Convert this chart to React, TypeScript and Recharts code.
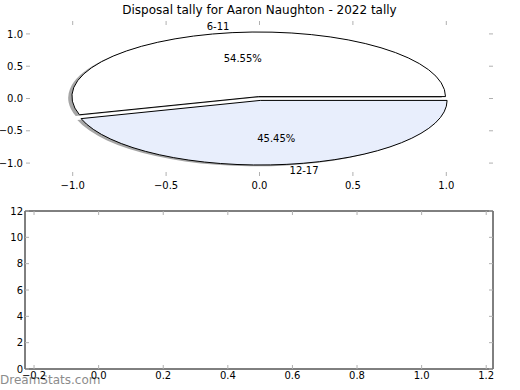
import { ScatterChart, Scatter, XAxis, YAxis, PieChart, Pie } from "recharts";

// pie: games per disposal band
const sliceLabels = ["6-11", "12-17"];
const sliceGames = [6, 5];
const sliceColors = ["#ffffff", "#e8eefc"];
const sliceExplode = [0.03, 0.03];

// axis ticks
const pieXTicks = [-1, -0.5, 0, 0.5, 1];
const pieYTicks = [1, 0.5, 0, -0.5, -1];
const emptyXTicks = [-0.2, 0, 0.2, 0.4, 0.6, 0.8, 1.0, 1.2];
const emptyYTicks = [0, 2, 4, 6, 8, 10, 12];
const emptyPoints: { x: number; y: number }[] = [];

const pieData = sliceLabels.map((name, i) => ({
  name,
  value: sliceGames[i],
  fill: sliceColors[i],
  explode: sliceExplode[i],
}));

const W = 520;
const FONT = "DejaVu Sans";
const TICK = "#b0b0b0";
const RAD = Math.PI / 180;

// top axes geometry
const TOP_H = 200;
const TOP = { left: 26, right: 27, top: 21, bottom: 24 };
const TOP_X: [number, number] = [-1.25, 1.25];
const TOP_Y: [number, number] = [-1.2, 1.2];
const plotW = W - TOP.left - TOP.right;
const plotH = TOP_H - TOP.top - TOP.bottom;
const RX = plotW / (TOP_X[1] - TOP_X[0]);
const RY = plotH / (TOP_Y[1] - TOP_Y[0]);
const ASPECT = RX / RY;
const PIE_CX = TOP.left + plotW / 2;
const PIE_CY = TOP.top + plotH / 2;

// bottom axes geometry
const BOT_TOP = 200;
const BOT_H = 190;
const BOT = { left: 25, right: 27, top: 11, bottom: 21 };
const BOT_X: [number, number] = [-0.228, 1.221];
const BOT_Y: [number, number] = [0, 12];

const fmt1 = (v: number) => v.toFixed(1).replace("-", "\u2212");
const fmt0 = (v: number) => String(v);

function makeTick(side: string, fmt: ((v: number) => string) | null, gap: number) {
  return (props: any) => {
    const { x, y, payload } = props;
    const v = payload.value;
    const L = 4;
    let line = null;
    let label = null;
    if (side === "bottom") {
      line = <line x1={x} x2={x} y1={y} y2={y - L} stroke={TICK} />;
      if (fmt)
        label = (
          <text x={x} y={y + gap} dy={3.6} textAnchor="middle" fontSize={10} fill="#000" fontFamily={FONT}>
            {fmt(v)}
          </text>
        );
    } else if (side === "top") {
      line = <line x1={x} x2={x} y1={y} y2={y + L} stroke={TICK} />;
    } else if (side === "left") {
      line = <line x1={x} x2={x + L} y1={y} y2={y} stroke={TICK} />;
      if (fmt)
        label = (
          <text x={x - gap} y={y} dy={3.6} textAnchor="end" fontSize={10} fill="#000" fontFamily={FONT}>
            {fmt(v)}
          </text>
        );
    } else {
      line = <line x1={x} x2={x - L} y1={y} y2={y} stroke={TICK} />;
    }
    return (
      <g>
        {line}
        {label}
      </g>
    );
  };
}

function wedgePath(cx: number, cy: number, rx: number, ry: number, a0: number, a1: number) {
  const x0 = cx + rx * Math.cos(a0 * RAD);
  const y0 = cy - ry * Math.sin(a0 * RAD);
  const x1 = cx + rx * Math.cos(a1 * RAD);
  const y1 = cy - ry * Math.sin(a1 * RAD);
  const large = Math.abs(a1 - a0) > 180 ? 1 : 0;
  return `M${cx},${cy}L${x0},${y0}A${rx},${ry} 0 ${large} 0 ${x1},${y1}Z`;
}

function explodedCenter(p: any) {
  const ry = p.outerRadius;
  const rx = ry * ASPECT;
  const e = p.payload?.explode ?? p.explode ?? 0;
  const m = p.midAngle * RAD;
  return { x: p.cx + e * rx * Math.cos(m), y: p.cy - e * ry * Math.sin(m), rx, ry };
}

const Wedge = (p: any) => {
  const c = explodedCenter(p);
  return (
    <path
      d={wedgePath(c.x, c.y, c.rx, c.ry, p.startAngle, p.endAngle)}
      fill={p.payload?.fill ?? p.fill}
      stroke="#000"
      strokeWidth={1}
      strokeLinejoin="round"
    />
  );
};

const Shadow = (p: any) => {
  const c = explodedCenter(p);
  const ox = -0.02 * c.rx;
  const oy = 0.02 * c.ry;
  return (
    <path
      d={wedgePath(c.x + ox, c.y + oy, c.rx, c.ry, p.startAngle, p.endAngle)}
      fill="#4d4d4d"
      fillOpacity={0.5}
      stroke="none"
    />
  );
};

const renderLabels = (p: any) => {
  const c = explodedCenter(p);
  const cos = Math.cos(p.midAngle * RAD);
  const sin = Math.sin(p.midAngle * RAD);
  return (
    <g>
      <text
        x={c.x + 1.1 * c.rx * cos}
        y={c.y - 1.1 * c.ry * sin}
        dy={3.6}
        textAnchor={cos > 0 ? "start" : "end"}
        fontSize={10}
        fontFamily={FONT}
        fill="#000"
      >
        {p.name}
      </text>
      <text
        x={c.x + 0.6 * c.rx * cos}
        y={c.y - 0.6 * c.ry * sin}
        dy={3.6}
        textAnchor="middle"
        fontSize={10}
        fontFamily={FONT}
        fill="#000"
      >
        {(p.percent * 100).toFixed(2)}%
      </text>
    </g>
  );
};

export default function App() {
  return (
    <div style={{ position: "absolute", left: 0, top: 0, width: W, height: 390, background: "#fff", fontFamily: FONT }}>
      <div
        style={{
          position: "absolute",
          left: 0,
          top: 2,
          width: W - 1,
          textAlign: "center",
          fontSize: 12,
          lineHeight: "16px",
          color: "#000",
        }}
      >
        Disposal tally for Aaron Naughton - 2022 tally
      </div>

      <div style={{ position: "absolute", left: 0, top: 0 }}>
        <ScatterChart width={W} height={TOP_H} margin={{ top: 0, right: 0, bottom: 0, left: 0 }}>
          <XAxis xAxisId="b" dataKey="x" type="number" orientation="bottom" domain={TOP_X} allowDataOverflow
            ticks={pieXTicks} interval={0} height={TOP.bottom} axisLine={false} tickLine={false} tickSize={0}
            tickMargin={0} tick={makeTick("bottom", fmt1, 9)} />
          <XAxis xAxisId="t" dataKey="x" type="number" orientation="top" domain={TOP_X} allowDataOverflow
            ticks={pieXTicks} interval={0} height={TOP.top} axisLine={false} tickLine={false} tickSize={0}
            tickMargin={0} tick={makeTick("top", null, 0)} />
          <YAxis yAxisId="l" dataKey="y" type="number" orientation="left" domain={TOP_Y} allowDataOverflow
            ticks={pieYTicks} interval={0} width={TOP.left} axisLine={false} tickLine={false} tickSize={0}
            tickMargin={0} tick={makeTick("left", fmt1, 3)} />
          <YAxis yAxisId="r" dataKey="y" type="number" orientation="right" domain={TOP_Y} allowDataOverflow
            ticks={pieYTicks} interval={0} width={TOP.right} axisLine={false} tickLine={false} tickSize={0}
            tickMargin={0} tick={makeTick("right", null, 0)} />
          <Scatter data={emptyPoints} xAxisId="b" yAxisId="l" isAnimationActive={false} />
          <Scatter data={emptyPoints} xAxisId="t" yAxisId="r" isAnimationActive={false} />
        </ScatterChart>
      </div>

      <div style={{ position: "absolute", left: 0, top: 0 }}>
        <PieChart width={W} height={TOP_H} margin={{ top: 0, right: 0, bottom: 0, left: 0 }}>
          <Pie data={pieData} dataKey="value" nameKey="name" cx={PIE_CX} cy={PIE_CY} innerRadius={0}
            outerRadius={RY} startAngle={0} endAngle={360} isAnimationActive={false} label={false}
            labelLine={false} shape={Shadow} activeShape={Shadow} inactiveShape={Shadow} />
          <Pie data={pieData} dataKey="value" nameKey="name" cx={PIE_CX} cy={PIE_CY} innerRadius={0}
            outerRadius={RY} startAngle={0} endAngle={360} isAnimationActive={false} label={renderLabels}
            labelLine={false} shape={Wedge} activeShape={Wedge} inactiveShape={Wedge} />
        </PieChart>
      </div>

      <div
        style={{
          position: "absolute",
          left: 0,
          top: 372,
          fontSize: 12,
          lineHeight: "16px",
          color: "#8c8c8c",
          whiteSpace: "nowrap",
        }}
      >
        DreamStats.com
      </div>

      <div style={{ position: "absolute", left: 0, top: BOT_TOP }}>
        <ScatterChart width={W} height={BOT_H} margin={{ top: 0, right: 0, bottom: 0, left: 0 }}>
          <XAxis xAxisId="b" dataKey="x" type="number" orientation="bottom" domain={BOT_X} allowDataOverflow
            ticks={emptyXTicks} interval={0} height={BOT.bottom} axisLine={{ stroke: "#000" }} tickLine={false}
            tickSize={0} tickMargin={0} tick={makeTick("bottom", fmt1, 6.5)} />
          <XAxis xAxisId="t" dataKey="x" type="number" orientation="top" domain={BOT_X} allowDataOverflow
            ticks={emptyXTicks} interval={0} height={BOT.top} axisLine={{ stroke: "#000" }} tickLine={false}
            tickSize={0} tickMargin={0} tick={makeTick("top", null, 0)} />
          <YAxis yAxisId="l" dataKey="y" type="number" orientation="left" domain={BOT_Y} allowDataOverflow
            ticks={emptyYTicks} interval={0} width={BOT.left} axisLine={{ stroke: "#000" }} tickLine={false}
            tickSize={0} tickMargin={0} tick={makeTick("left", fmt0, 2)} />
          <YAxis yAxisId="r" dataKey="y" type="number" orientation="right" domain={BOT_Y} allowDataOverflow
            ticks={emptyYTicks} interval={0} width={BOT.right} axisLine={{ stroke: "#000" }} tickLine={false}
            tickSize={0} tickMargin={0} tick={makeTick("right", null, 0)} />
          <Scatter data={emptyPoints} xAxisId="b" yAxisId="l" isAnimationActive={false} />
          <Scatter data={emptyPoints} xAxisId="t" yAxisId="r" isAnimationActive={false} />
        </ScatterChart>
      </div>
    </div>
  );
}
